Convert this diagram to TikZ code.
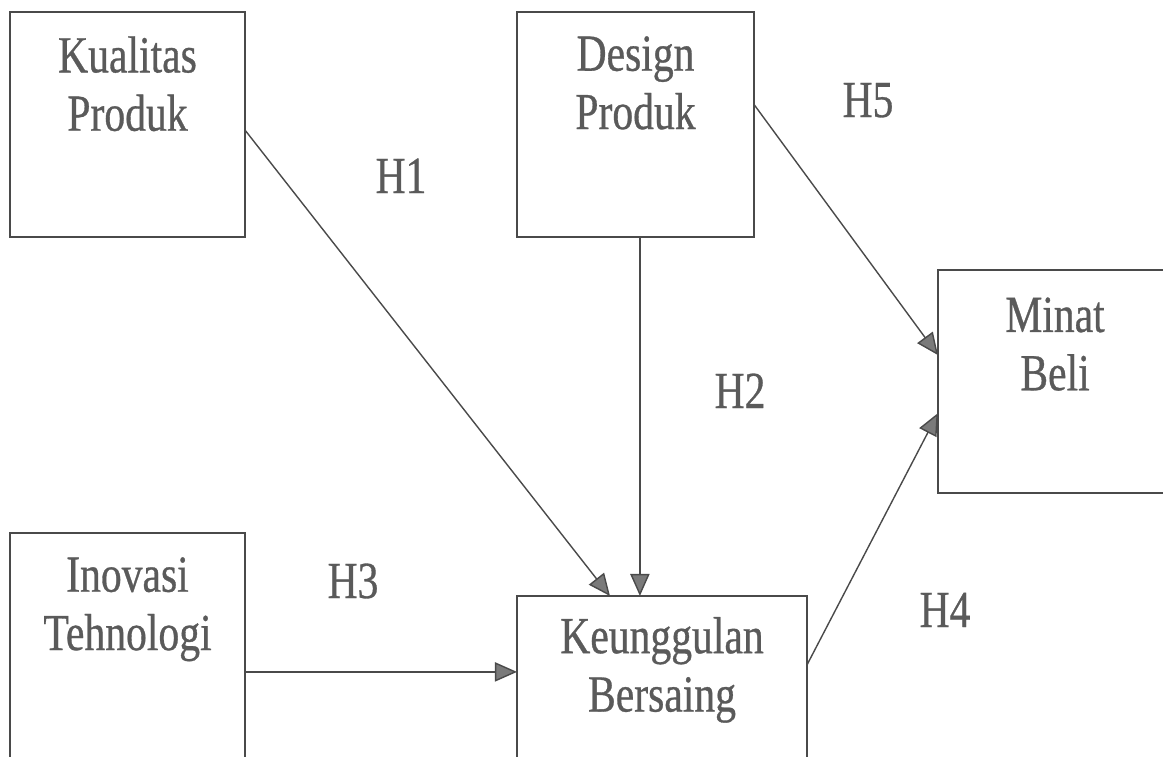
\documentclass[tikz,border=0pt]{standalone}
\usepackage{fontspec}
\newfontfamily\diagfont[FakeStretch=0.8,FakeBold=0.6]{Liberation Serif}
\usetikzlibrary{arrows.meta,positioning}
\definecolor{txtgray}{HTML}{5A5A5A}
\definecolor{linegray}{HTML}{4A4A4A}
\definecolor{tipgray}{HTML}{7A7A7A}

\begin{document}
\begin{tikzpicture}[x=0.025cm,y=-0.025cm,
    box/.style={draw=linegray, line width=1.6pt, inner sep=0pt, outer sep=0pt},
    lbl/.style={inner sep=0pt, align=center, text=txtgray,
        font=\diagfont\fontsize{37}{41.5}\selectfont},
    hyp/.style={inner sep=0pt, anchor=base, text=txtgray,
        font=\diagfont\fontsize{37}{41.5}\selectfont},
    link/.style={draw=linegray, line width=1pt,
        -{Triangle[length=0.55cm,width=0.48cm,fill=tipgray]}}]
    % Define the frame
    \useasboundingbox (0,0) rectangle (1163,756);
    \clip (0,0) rectangle (1163,756);

    % Draw the boxes
    \node[box, minimum width=5.875cm, minimum height=5.625cm] (kp) at (127.5,124.5) {};
    \node[box, minimum width=5.925cm, minimum height=5.625cm] (dp) at (635.5,124.5) {};
    \node[box, minimum width=5.85cm, minimum height=5.575cm] (mb) at (1055,381.5) {};
    \node[box, minimum width=5.875cm, minimum height=5.625cm] (it) at (127.5,645.5) {};
    \node[box, minimum width=7.25cm, minimum height=4.1cm] (ku) at (662,678) {};

    % Box texts
    \node[lbl, below=0.6cm of kp.north] (kptext) {Kualitas\\Produk};
    \node[lbl, below=0.6cm of dp.north] (dptext) {Design\\Produk};
    \node[lbl, below=0.68cm of mb.north] (mbtext) {Minat\\Beli};
    \node[lbl, below=0.6cm of it.north] (ittext) {Inovasi\\Tehnologi};
    \node[lbl, below=0.52cm of ku.north] (kutext) {Keunggulan\\Bersaing};

    % Draw the paths
    \draw[link] ([yshift=-0.14cm]kp.east) -- ([xshift=-1.3cm]ku.north);
    \draw[link] ([xshift=0.11cm]dp.south) -- ([xshift=0.11cm]dp.south |- ku.north);
    \draw[link] ([yshift=0.5cm]dp.east) -- ([yshift=0.66cm]mb.west);
    \draw[link] ([yshift=-0.66cm]it.east) -- ([yshift=-0.66cm]it.east -| ku.west);
    \draw[link] ([yshift=0.33cm]ku.east) -- ([yshift=-0.79cm]mb.west);

    % Hypothesis labels
    \node[hyp] (h1) at (401,193) {H1};
    \node[hyp] (h2) at (740,408) {H2};
    \node[hyp] (h3) at (353,598) {H3};
    \node[hyp] (h4) at (945,627) {H4};
    \node[hyp] (h5) at (868,117) {H5};
\end{tikzpicture}
\end{document}
